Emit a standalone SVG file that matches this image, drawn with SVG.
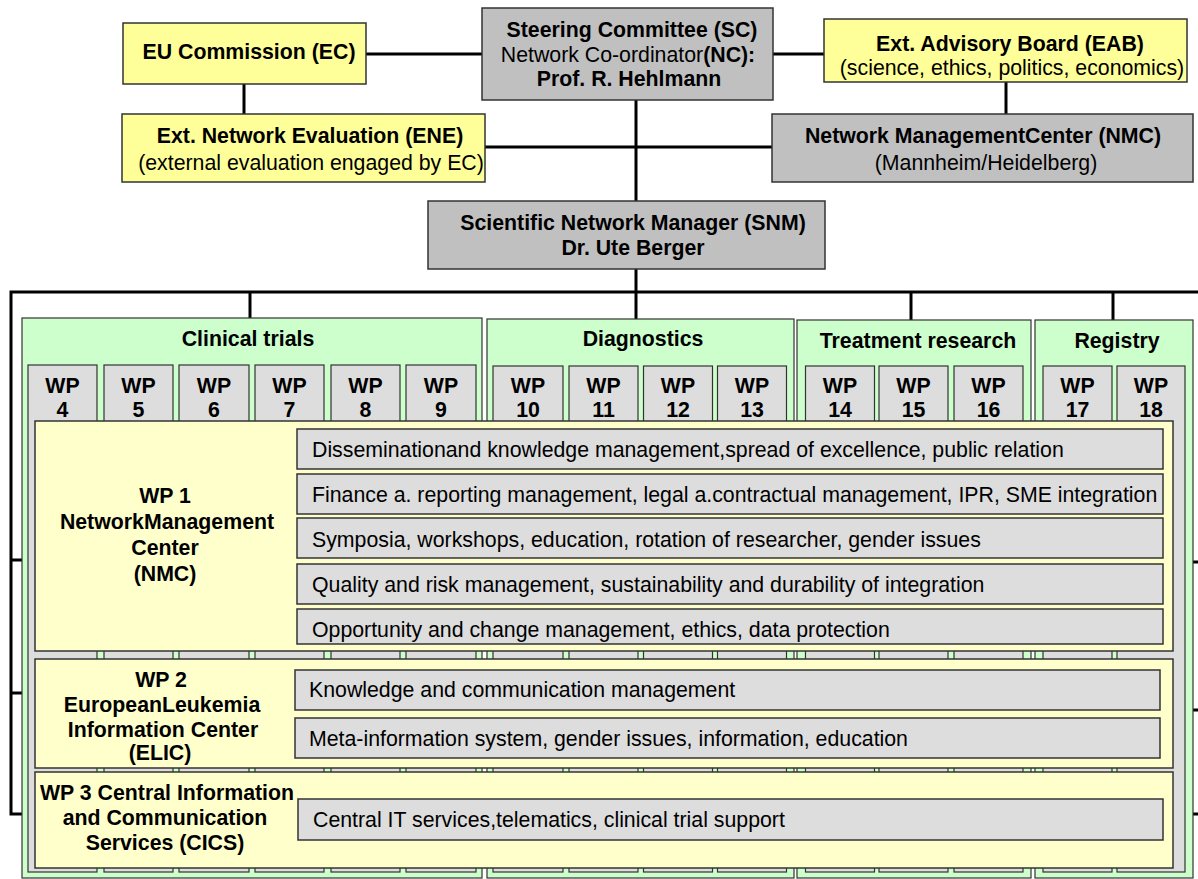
<svg xmlns="http://www.w3.org/2000/svg" width="1198" height="879" viewBox="0 0 1198 879">
  <style>
    text { font-family: "Liberation Sans", Arial, sans-serif; font-size: 21.3px; fill: #000; }
    .b { font-weight: bold; }
    .c { text-anchor: middle; }
    .box { stroke: #333; stroke-width: 1.5; }
    .yel { fill: #ffff99; }
    .gry { fill: #c0c0c0; }
    .grn { fill: #ccffcc; stroke: #333; stroke-width: 1.2; }
    .wp { fill: #dddddd; stroke: #333; stroke-width: 1.2; }
    .band { fill: #ffffcc; stroke: #333; stroke-width: 1.5; }
    .item { fill: #dddddd; stroke: #333; stroke-width: 1.5; }
    .ln { stroke: #000; stroke-width: 3; fill: none; }
  </style>

  <!-- connectors -->
  <g id="connectors">
    <line class="ln" x1="366" y1="54" x2="482" y2="54"/>
    <line class="ln" x1="773" y1="54" x2="824" y2="54"/>
    <line class="ln" x1="244" y1="84" x2="244" y2="114"/>
    <line class="ln" x1="1006" y1="82" x2="1006" y2="114"/>
    <line class="ln" x1="485" y1="147" x2="772" y2="147"/>
    <line class="ln" x1="636" y1="100" x2="636" y2="201"/>
    <line class="ln" x1="636" y1="269" x2="636" y2="319"/>
    <polyline class="ln" points="1198,292 11,292 11,814 35,814"/>
    <line class="ln" x1="11" y1="560" x2="35" y2="560"/>
    <line class="ln" x1="11" y1="693" x2="35" y2="693"/>
    <line class="ln" x1="250" y1="292" x2="250" y2="318"/>
    <line class="ln" x1="911" y1="292" x2="911" y2="320"/>
    <line class="ln" x1="1113" y1="292" x2="1113" y2="320"/>
    <line class="ln" x1="1173" y1="562" x2="1198" y2="562"/>
    <line class="ln" x1="1173" y1="710" x2="1198" y2="710"/>
    <line class="ln" x1="1173" y1="814" x2="1198" y2="814"/>
  </g>

  <!-- governance boxes -->
  <g id="ec">
    <rect class="box yel" x="123" y="23" width="243" height="61"/>
    <text class="b c" x="249" y="59">EU Commission (EC)</text>
  </g>
  <g id="sc">
    <rect class="box gry" x="482" y="8" width="291" height="92"/>
    <text class="b c" x="632" y="37">Steering Committee (SC)</text>
    <text class="c" x="628" y="62">Network Co-ordinator<tspan class="b">(NC):</tspan></text>
    <text class="b c" x="629" y="86">Prof. R. Hehlmann</text>
  </g>
  <g id="eab">
    <rect class="box yel" x="824" y="19" width="363" height="63"/>
    <text class="b c" x="1010" y="51">Ext. Advisory Board (EAB)</text>
    <text class="c" x="1012" y="75">(science, ethics, politics, economics)</text>
  </g>
  <g id="ene">
    <rect class="box yel" x="122" y="114" width="363" height="68"/>
    <text class="b c" x="310" y="143">Ext. Network Evaluation (ENE)</text>
    <text class="c" x="311" y="170">(external evaluation engaged by EC)</text>
  </g>
  <g id="nmc">
    <rect class="box gry" x="772" y="114" width="421" height="68"/>
    <text class="b c" x="983" y="143">Network ManagementCenter (NMC)</text>
    <text class="c" x="986" y="170">(Mannheim/Heidelberg)</text>
  </g>
  <g id="snm">
    <rect class="box gry" x="428" y="201" width="397" height="68"/>
    <text class="b c" x="633" y="230">Scientific Network Manager (SNM)</text>
    <text class="b c" x="633" y="255">Dr. Ute Berger</text>
  </g>

  <!-- research areas -->
  <g id="clinical-trials">
    <rect class="grn" x="22" y="318" width="460" height="560"/>
    <text class="b c" x="248" y="346">Clinical trials</text>
  </g>
  <g id="diagnostics">
    <rect class="grn" x="487" y="319" width="307" height="559"/>
    <text class="b c" x="643" y="346">Diagnostics</text>
  </g>
  <g id="treatment-research">
    <rect class="grn" x="797" y="320" width="234" height="558"/>
    <text class="b c" x="918" y="348">Treatment research</text>
  </g>
  <g id="registry">
    <rect class="grn" x="1035" y="320" width="158" height="558"/>
    <text class="b c" x="1117" y="348">Registry</text>
  </g>

  <!-- work packages -->
  <g id="wp4"><rect class="wp" x="28" y="365" width="69" height="507"/><text class="b c" x="62.5" y="393">WP</text><text class="b c" x="62.5" y="417">4</text></g>
  <g id="wp5"><rect class="wp" x="104" y="365" width="69" height="507"/><text class="b c" x="138.5" y="393">WP</text><text class="b c" x="138.5" y="417">5</text></g>
  <g id="wp6"><rect class="wp" x="179" y="365" width="70" height="507"/><text class="b c" x="214" y="393">WP</text><text class="b c" x="214" y="417">6</text></g>
  <g id="wp7"><rect class="wp" x="255" y="365" width="69" height="507"/><text class="b c" x="289.5" y="393">WP</text><text class="b c" x="289.5" y="417">7</text></g>
  <g id="wp8"><rect class="wp" x="331" y="365" width="69" height="507"/><text class="b c" x="365.5" y="393">WP</text><text class="b c" x="365.5" y="417">8</text></g>
  <g id="wp9"><rect class="wp" x="406" y="365" width="70" height="507"/><text class="b c" x="441" y="393">WP</text><text class="b c" x="441" y="417">9</text></g>
  <g id="wp10"><rect class="wp" x="493" y="366" width="70" height="506"/><text class="b c" x="528" y="393">WP</text><text class="b c" x="528" y="417">10</text></g>
  <g id="wp11"><rect class="wp" x="569" y="366" width="69" height="506"/><text class="b c" x="603.5" y="393">WP</text><text class="b c" x="603.5" y="417">11</text></g>
  <g id="wp12"><rect class="wp" x="643.5" y="366" width="69" height="506"/><text class="b c" x="678" y="393">WP</text><text class="b c" x="678" y="417">12</text></g>
  <g id="wp13"><rect class="wp" x="717.5" y="366" width="69" height="506"/><text class="b c" x="752" y="393">WP</text><text class="b c" x="752" y="417">13</text></g>
  <g id="wp14"><rect class="wp" x="805.5" y="366" width="69" height="506"/><text class="b c" x="840" y="393">WP</text><text class="b c" x="840" y="417">14</text></g>
  <g id="wp15"><rect class="wp" x="879" y="366" width="69" height="506"/><text class="b c" x="913.5" y="393">WP</text><text class="b c" x="913.5" y="417">15</text></g>
  <g id="wp16"><rect class="wp" x="954" y="366" width="69" height="506"/><text class="b c" x="988.5" y="393">WP</text><text class="b c" x="988.5" y="417">16</text></g>
  <g id="wp17"><rect class="wp" x="1043" y="366" width="69" height="506"/><text class="b c" x="1077.5" y="393">WP</text><text class="b c" x="1077.5" y="417">17</text></g>
  <g id="wp18"><rect class="wp" x="1117" y="366" width="68" height="506"/><text class="b c" x="1151" y="393">WP</text><text class="b c" x="1151" y="417">18</text></g>

  <!-- cross-cutting work packages -->
  <g id="wp1">
    <rect class="band" x="35" y="421" width="1138" height="230"/>
    <text class="b c" x="165" y="503">WP 1</text>
    <text class="b c" x="167" y="529">NetworkManagement</text>
    <text class="b c" x="165" y="555">Center</text>
    <text class="b c" x="165" y="581">(NMC)</text>
    <rect class="item" x="297" y="429" width="866" height="40"/>
    <text x="312" y="457">Disseminationand knowledge management,spread of excellence, public relation</text>
    <rect class="item" x="297" y="474" width="866" height="40"/>
    <text x="312" y="502">Finance a. reporting management, legal a.contractual management, IPR, SME integration</text>
    <rect class="item" x="297" y="518" width="866" height="40"/>
    <text x="312" y="547">Symposia, workshops, education, rotation of researcher, gender issues</text>
    <rect class="item" x="297" y="564" width="866" height="40"/>
    <text x="312" y="592">Quality and risk management, sustainability and durability of integration</text>
    <rect class="item" x="297" y="609" width="866" height="35"/>
    <text x="312" y="637">Opportunity and change management, ethics, data protection</text>
  </g>
  <g id="wp2">
    <rect class="band" x="35" y="659" width="1138" height="109"/>
    <text class="b c" x="161" y="687">WP 2</text>
    <text class="b c" x="162" y="712">EuropeanLeukemia</text>
    <text class="b c" x="163" y="737">Information Center</text>
    <text class="b c" x="160" y="760">(ELIC)</text>
    <rect class="item" x="295" y="670" width="865" height="40"/>
    <text x="309" y="697">Knowledge and communication management</text>
    <rect class="item" x="295" y="718" width="865" height="40"/>
    <text x="309" y="746">Meta-information system, gender issues, information, education</text>
  </g>
  <g id="wp3">
    <rect class="band" x="35" y="772" width="1138" height="96"/>
    <text class="b c" x="167" y="800">WP 3 Central Information</text>
    <text class="b c" x="165" y="825">and Communication</text>
    <text class="b c" x="165" y="850">Services (CICS)</text>
    <rect class="item" x="298" y="799" width="865" height="41"/>
    <text x="313" y="827">Central IT services,telematics, clinical trial support</text>
  </g>
</svg>
